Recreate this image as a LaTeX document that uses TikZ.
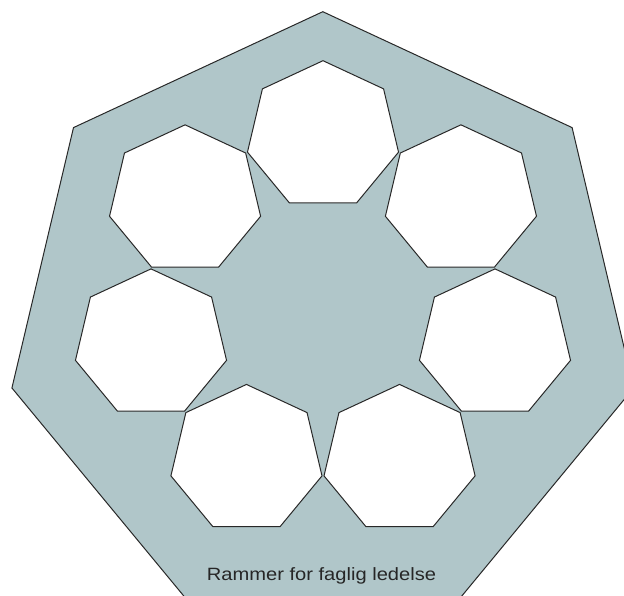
\documentclass[tikz,border=0pt]{standalone}
\usepackage{fontspec}
\setmainfont{Liberation Sans}
\definecolor{framefill}{RGB}{176,198,201}
\definecolor{edgecol}{RGB}{40,40,40}
\definecolor{textcol}{RGB}{38,38,38}
\begin{document}
\begin{tikzpicture}[x=1pt,y=1pt,
  outline/.style={draw=edgecol, line width=1pt, line join=miter},
  caption/.style={text=textcol, inner sep=0pt, anchor=base, font=\fontsize{17.8}{20}\selectfont}]
\useasboundingbox (0,0) rectangle (624,-596);
\pgfmathsetmacro{\sx}{1.036}
\begin{scope}
\clip (0,0) rectangle (624,-596);
% outer heptagon
\draw[outline, fill=framefill]
  ({322.8+\sx*307.8*cos(90)},{-319.5+307.8*sin(90)})
  \foreach \k in {1,...,6} { -- ({322.8+\sx*307.8*cos(90+\k*360/7)},{-319.5+307.8*sin(90+\k*360/7)}) }
  -- cycle;
\end{scope}
% seven inner heptagons
\foreach \j in {0,...,6} {
  \pgfmathsetmacro{\cxj}{323+\sx*170.3*cos(90+\j*360/7)}
  \pgfmathsetmacro{\cyj}{-305.8+170.3*sin(90+\j*360/7)}
  \draw[outline, fill=white]
    ({\cxj+\sx*74.8*cos(90)},{\cyj+74.8*sin(90)})
    \foreach \k in {1,...,6} { -- ({\cxj+\sx*74.8*cos(90+\k*360/7)},{\cyj+74.8*sin(90+\k*360/7)}) }
    -- cycle;
}
\node[caption] (label) at (321.5,-580) {\scalebox{1.13}[1]{Rammer for faglig ledelse}};
\end{tikzpicture}
\end{document}
